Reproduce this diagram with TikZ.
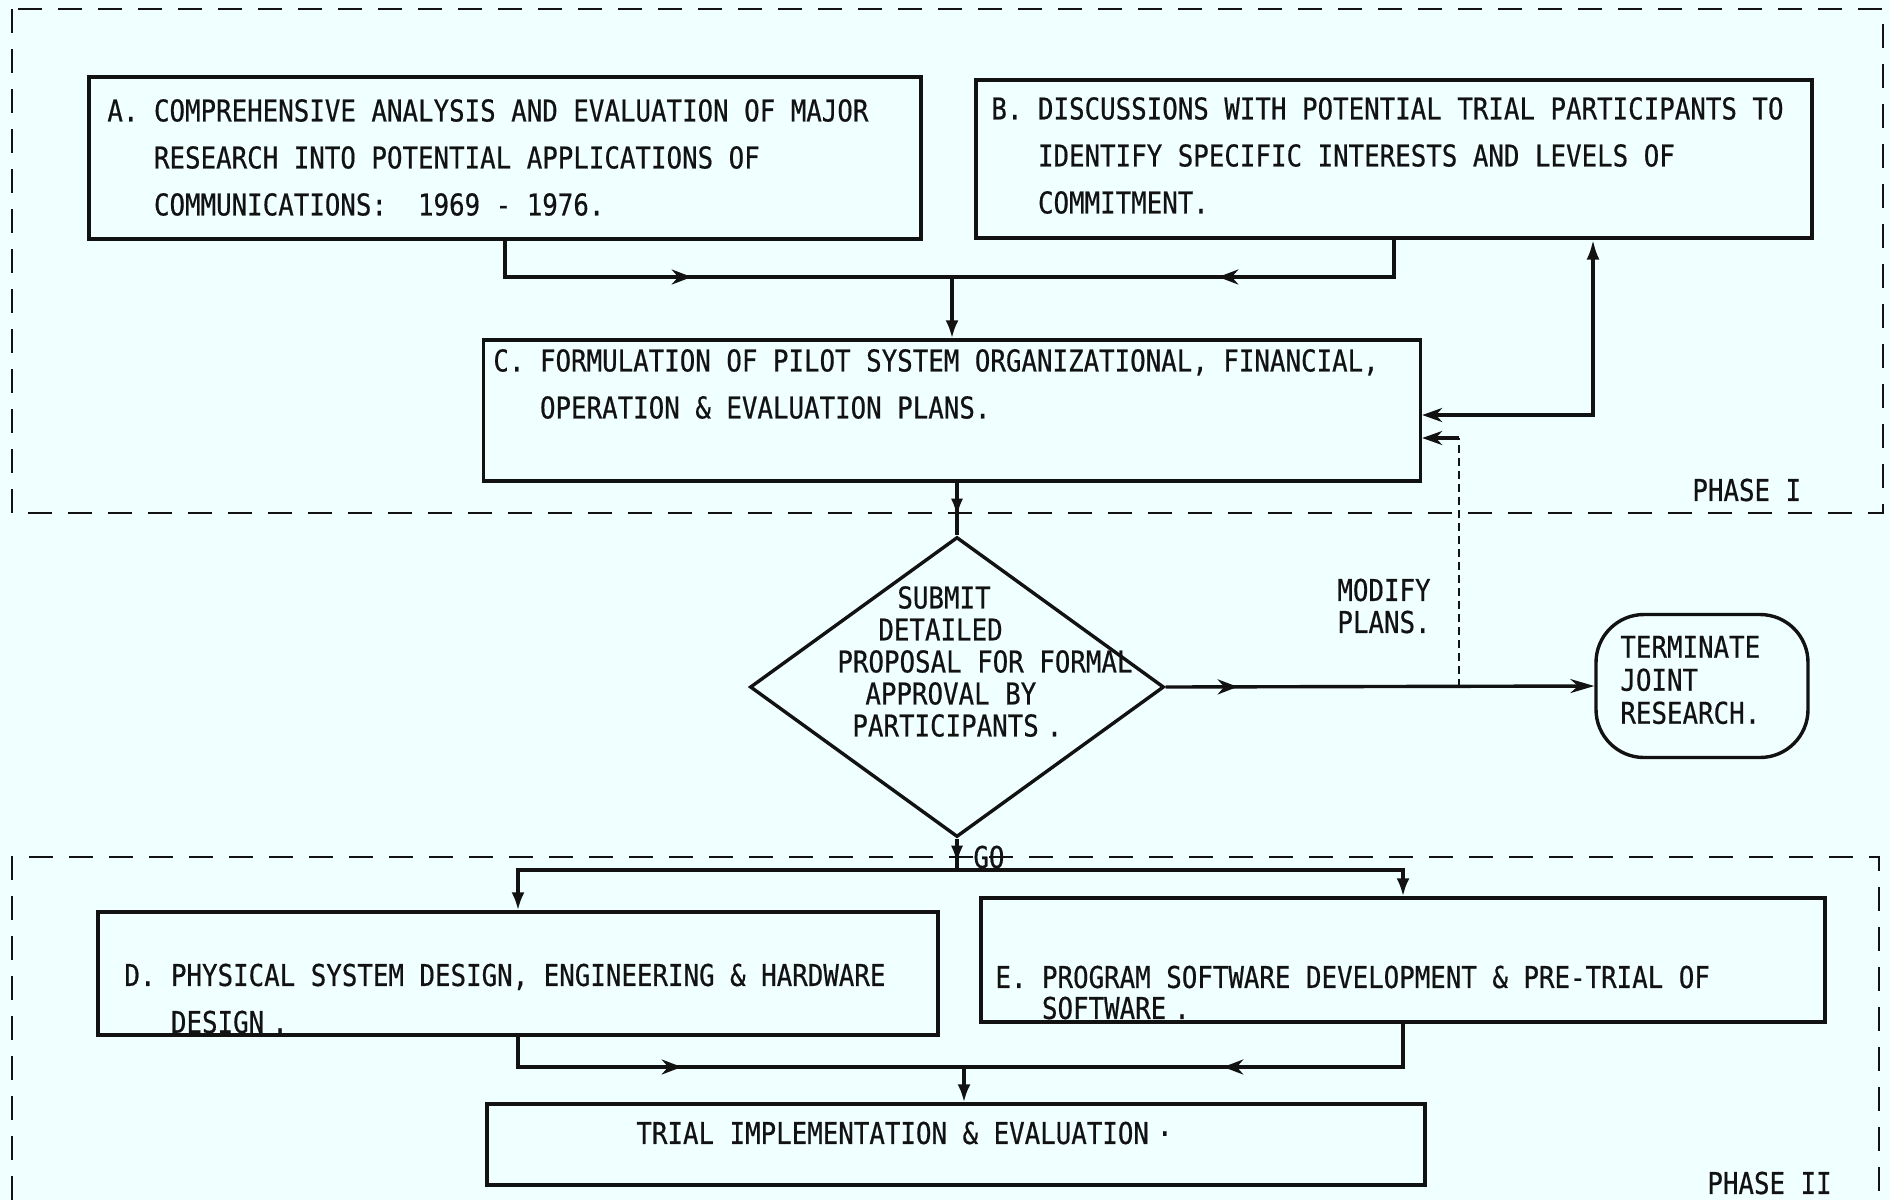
\documentclass[tikz,border=0pt]{standalone}
\usepackage{fontspec}
\newfontfamily\tw[FakeStretch=0.86,FakeBold=0.5]{DejaVu Sans Mono}
\usetikzlibrary{arrows.meta,shapes.geometric,decorations.markings,calc}
\definecolor{bgc}{RGB}{240,255,255}
\definecolor{ink}{RGB}{18,18,18}
\newcommand\indt{\hphantom{A.~}}
\newcommand\pd{\hspace{4pt}.}
\tikzset{
  box/.style={draw=ink, line width=1.7pt, inner sep=0},
  conn/.style={draw=ink, line width=1.7pt},
  modl/.style={draw=ink, line width=0.7pt, dash pattern=on 4pt off 2.5pt},
  phase/.style={draw=ink, line width=0.9pt, dash pattern=on 12pt off 8pt},
  txt/.style={inner sep=0, anchor=west, align=left, text=ink, font=\tw\fontsize{15}{23.5}\selectfont},
  txts/.style={txt, font=\tw\fontsize{15}{16}\selectfont},
  endtip/.tip={Latex[length=9pt,width=6.5pt]},
  uptip/.tip={Latex[length=10pt,width=6.5pt]},
  intip/.tip={Stealth[length=10pt,width=7pt]},
  opentip/.tip={Stealth[open,length=12pt,width=7pt]},
  arrat/.style={postaction={decorate,decoration={markings,mark=at position #1 with {\arrow{Stealth[open,length=10pt,width=7.5pt]}}}}},
  farrat/.style={postaction={decorate,decoration={markings,mark=at position #1 with {\arrow{Latex[length=9pt,width=6pt]}}}}}
}
\begin{document}
\begin{tikzpicture}[x=0.5pt,y=-0.5pt]
\path[use as bounding box, fill=bgc] (0,0) rectangle (1890,1200);

% phase frames
\draw[phase] (12,9) rectangle (1883,513);
\draw[phase] (12,1200) -- (12,857) -- (1879,857) -- (1879,1200);
\node[txt] (ph1) at (1692,490) {PHASE I};
\node[txt] (ph2) at (1707,1183) {PHASE II};

% boxes
\node[box, minimum width=416pt, minimum height=81pt] (A) at (505,158) {};
\node[box, minimum width=418pt, minimum height=79pt] (B) at (1394,159) {};
\node[box, minimum width=468.5pt, minimum height=70.5pt] (C) at (952,410.5) {};
\node[box, diamond, minimum width=207pt, minimum height=150pt] (dec) at (957,687) {};
\node[box, rounded corners=24pt, minimum width=106pt, minimum height=71.5pt] (T) at (1702,686) {};
\node[box, minimum width=420pt, minimum height=61.5pt] (D) at (518,973.5) {};
\node[box, minimum width=422pt, minimum height=62pt] (E) at (1403,960) {};
\node[box, minimum width=469pt, minimum height=40.5pt] (Tr) at (956,1144.5) {};

% texts
\node[txt] (At) at (107,157.5) {A. COMPREHENSIVE ANALYSIS AND EVALUATION OF MAJOR\\\indt RESEARCH INTO POTENTIAL APPLICATIONS OF\\\indt COMMUNICATIONS:~~1969 - 1976.};
\node[txt] (Bt) at (991,155.5) {B. DISCUSSIONS WITH POTENTIAL TRIAL PARTICIPANTS TO\\\indt IDENTIFY SPECIFIC INTERESTS AND LEVELS OF\\\indt COMMITMENT.};
\node[txt] (Ct) at (493,384) {C. FORMULATION OF PILOT SYSTEM ORGANIZATIONAL, FINANCIAL,\\\indt OPERATION \& EVALUATION PLANS.};
\node[txts] (dect) at (837,661.5) {\hspace*{30pt}SUBMIT\\\hspace*{20.5pt}DETAILED\\PROPOSAL FOR FORMAL\\\hspace*{14pt}APPROVAL BY\\\hspace*{7.5pt}PARTICIPANTS\pd};
\node[txt, font=\tw\fontsize{15}{16.5}\selectfont] (Tt) at (1620,680) {TERMINATE\\JOINT\\RESEARCH.};
\node[txts] (mod) at (1337,606) {MODIFY\\PLANS.};
\node[txt] (go) at (973,857) {GO};
\node[txt, font=\tw\fontsize{15}{23.5}\selectfont] (Dt) at (124,998.5) {D. PHYSICAL SYSTEM DESIGN, ENGINEERING \& HARDWARE\\\indt DESIGN\pd};
\node[txt, font=\tw\fontsize{15}{15.5}\selectfont] (Et) at (995,992.5) {E. PROGRAM SOFTWARE DEVELOPMENT \& PRE-TRIAL OF\\\indt SOFTWARE\pd};
\node[txt] (Trt) at (636,1133) {TRIAL IMPLEMENTATION \& EVALUATION\hspace{4pt}·};

% connectors
\coordinate (jAB) at (952,277);
\draw[conn, arrat=111.5pt] (A.south) |- (jAB);
\draw[conn, arrat=106.5pt] (B.south) |- (jAB);
\draw[conn, -{endtip}] (jAB) -- (C.north);
\draw[conn, {intip}-{uptip}] ([yshift=-2.25pt]C.east) -| ([xshift=99.5pt]B.south);
\draw[conn, farrat=17pt] (C.south -| dec.north) -- (dec.north);

\coordinate (jM) at (1459,687);
\coordinate (cM) at (1459,438);
\draw[conn, arrat=36pt, -{opentip}] (dec.east) -- (T.west);
\draw[modl] (jM) -- (cM);
\draw[conn, -{intip}] (cM) -- (cM -| C.east);

\coordinate (jGO) at (957,870);
\draw[conn, farrat=12.5pt] (dec.south) -- (jGO);
\draw[conn, -{endtip}] (jGO) -| (D.north);
\draw[conn, -{endtip}] (jGO) -| (E.north);

\coordinate (jT) at (964,1067);
\draw[conn, arrat=97pt] (D.south) |- (jT);
\draw[conn, arrat=111.5pt] (E.south) |- (jT);
\draw[conn, -{endtip}] (jT) -- (jT |- Tr.north);
\end{tikzpicture}
\end{document}
